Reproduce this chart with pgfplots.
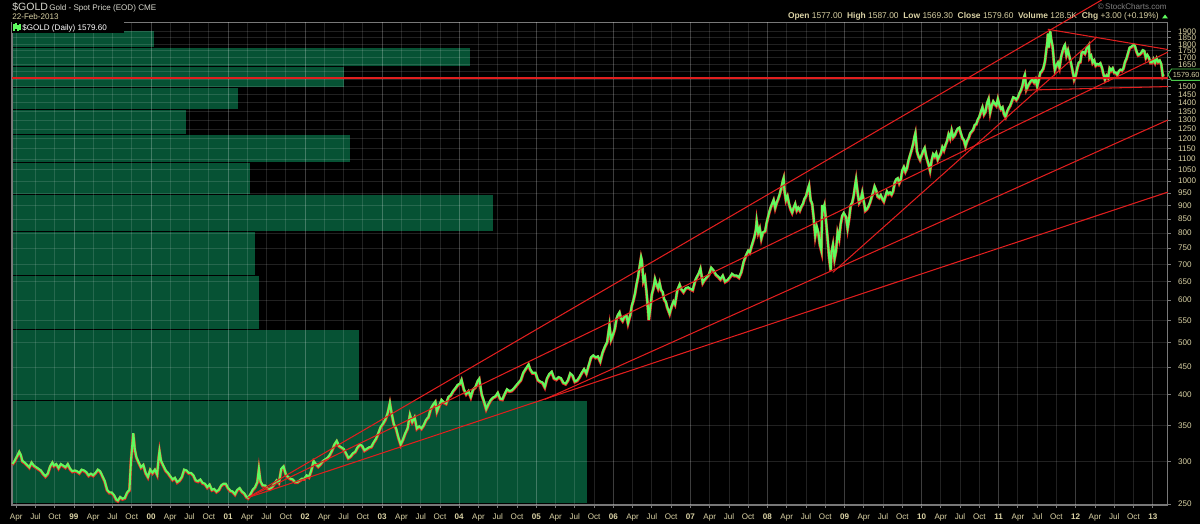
\documentclass[border=0pt]{standalone}
\usepackage{fontspec}
\setmainfont{Liberation Sans}
\usepackage{pgfplots}
\usepackage{pgfplotstable}
\pgfplotsset{compat=1.18}

\definecolor{framec}{RGB}{120,120,120}
\definecolor{labc}{RGB}{218,210,165}
\definecolor{volc}{RGB}{6,82,52}
\definecolor{pgreen}{RGB}{95,250,95}
\definecolor{pred}{RGB}{235,35,35}
\definecolor{tred}{RGB}{225,30,30}
\definecolor{hdr}{RGB}{215,215,205}

\newcommand\sm{\fontsize{4.6}{5.5}\selectfont}

% gold spot, decimal year vs price
\pgfplotstableread{
t p
1998.20 296
1998.23 300
1998.26 306
1998.29 312
1998.31 308
1998.33 300
1998.36 298
1998.39 295
1998.42 292
1998.45 298
1998.48 294
1998.51 292
1998.54 290
1998.57 288
1998.60 284
1998.63 281
1998.66 284
1998.69 293
1998.72 298
1998.74 294
1998.77 296
1998.80 291
1998.83 296
1998.86 294
1998.89 292
1998.92 296
1998.95 290
1998.98 287
1999.01 288
1999.04 287
1999.07 285
1999.10 289
1999.13 288
1999.16 286
1999.19 282
1999.22 284
1999.25 282
1999.28 285
1999.31 289
1999.34 287
1999.37 281
1999.40 275
1999.43 265
1999.46 262
1999.49 262
1999.52 259
1999.55 254
1999.57 253
1999.60 257
1999.63 255
1999.66 256
1999.69 262
1999.72 265
1999.74 300
1999.76 325
1999.77 338
1999.79 315
1999.81 305
1999.84 298
1999.87 292
1999.90 295
1999.93 285
1999.96 280
1999.99 289
2000.02 285
2000.05 289
2000.08 283
2000.10 305
2000.11 313
2000.13 300
2000.16 294
2000.19 288
2000.22 285
2000.25 281
2000.28 277
2000.31 279
2000.34 274
2000.37 276
2000.40 280
2000.43 289
2000.46 288
2000.49 285
2000.52 285
2000.55 282
2000.58 276
2000.61 275
2000.64 277
2000.67 273
2000.70 272
2000.73 268
2000.76 271
2000.79 265
2000.82 266
2000.85 263
2000.88 265
2000.91 270
2000.94 272
2000.97 272
2001.00 267
2001.03 264
2001.06 263
2001.09 260
2001.12 265
2001.15 267
2001.18 263
2001.21 261
2001.24 257
2001.26 256
2001.29 260
2001.32 265
2001.35 268
2001.38 274
2001.40 290
2001.42 275
2001.45 270
2001.48 270
2001.51 267
2001.54 266
2001.57 268
2001.60 272
2001.63 276
2001.66 273
2001.69 290
2001.72 293
2001.75 283
2001.78 280
2001.81 278
2001.84 277
2001.87 274
2001.90 274
2001.93 276
2001.96 278
2001.99 278
2002.02 282
2002.05 280
2002.08 288
2002.11 300
2002.14 296
2002.17 293
2002.20 296
2002.23 300
2002.26 302
2002.29 304
2002.32 308
2002.35 314
2002.38 322
2002.41 327
2002.44 320
2002.47 318
2002.50 316
2002.53 310
2002.56 304
2002.59 306
2002.62 310
2002.65 312
2002.68 318
2002.71 322
2002.74 320
2002.77 314
2002.80 316
2002.83 318
2002.86 319
2002.89 325
2002.92 330
2002.95 338
2002.98 347
2003.01 352
2003.04 358
2003.07 368
2003.10 385
2003.12 370
2003.15 352
2003.18 345
2003.21 332
2003.24 322
2003.27 329
2003.30 338
2003.33 345
2003.36 366
2003.39 355
2003.42 362
2003.45 345
2003.48 348
2003.51 345
2003.54 350
2003.57 358
2003.60 362
2003.63 375
2003.66 382
2003.69 387
2003.71 371
2003.74 380
2003.77 390
2003.80 386
2003.83 384
2003.86 395
2003.89 398
2003.92 405
2003.95 410
2003.98 416
2004.01 418
2004.03 425
2004.06 408
2004.09 400
2004.12 405
2004.15 395
2004.18 408
2004.21 412
2004.24 423
2004.26 427
2004.29 400
2004.32 388
2004.35 375
2004.38 383
2004.41 390
2004.44 394
2004.47 396
2004.50 402
2004.53 392
2004.56 391
2004.59 400
2004.62 408
2004.65 405
2004.68 406
2004.71 410
2004.74 415
2004.77 420
2004.80 425
2004.83 438
2004.86 445
2004.90 454
2004.92 445
2004.95 438
2004.99 438
2005.02 425
2005.05 422
2005.08 420
2005.11 412
2005.14 428
2005.17 436
2005.20 440
2005.23 428
2005.26 426
2005.29 430
2005.32 428
2005.35 420
2005.38 418
2005.41 424
2005.44 437
2005.47 433
2005.50 422
2005.53 424
2005.56 430
2005.59 438
2005.62 445
2005.65 437
2005.68 452
2005.71 468
2005.74 472
2005.77 468
2005.80 470
2005.83 460
2005.86 478
2005.89 490
2005.92 500
2005.94 525
2005.95 537
2005.97 505
2005.99 513
2006.02 530
2006.04 552
2006.06 562
2006.08 568
2006.10 553
2006.12 548
2006.14 556
2006.17 560
2006.19 542
2006.22 562
2006.24 585
2006.26 598
2006.28 615
2006.30 640
2006.32 660
2006.34 690
2006.36 720
2006.37 710
2006.39 650
2006.41 660
2006.43 620
2006.45 575
2006.46 550
2006.48 580
2006.50 615
2006.52 630
2006.54 655
2006.56 640
2006.58 630
2006.60 645
2006.62 625
2006.64 620
2006.66 600
2006.68 595
2006.70 580
2006.73 565
2006.76 585
2006.78 595
2006.80 588
2006.83 625
2006.86 640
2006.88 628
2006.91 620
2006.94 630
2006.97 632
2007.00 628
2007.03 625
2007.06 650
2007.08 660
2007.11 672
2007.13 685
2007.16 645
2007.18 652
2007.21 660
2007.24 668
2007.27 688
2007.30 680
2007.33 668
2007.36 662
2007.39 655
2007.42 665
2007.45 648
2007.48 652
2007.51 660
2007.54 670
2007.57 665
2007.60 665
2007.63 660
2007.66 675
2007.69 705
2007.72 725
2007.75 740
2007.77 735
2007.80 760
2007.83 785
2007.85 810
2007.86 840
2007.88 800
2007.90 815
2007.92 780
2007.94 800
2007.97 805
2007.99 835
2008.02 870
2008.04 890
2008.06 905
2008.08 920
2008.10 890
2008.12 910
2008.14 925
2008.16 945
2008.18 970
2008.20 1000
2008.21 1011
2008.22 960
2008.24 920
2008.26 935
2008.28 905
2008.30 885
2008.32 872
2008.34 890
2008.36 905
2008.38 880
2008.40 890
2008.42 880
2008.44 895
2008.46 905
2008.48 925
2008.50 935
2008.52 960
2008.54 980
2008.56 920
2008.58 905
2008.60 850
2008.62 790
2008.64 820
2008.66 800
2008.68 760
2008.70 740
2008.71 900
2008.72 880
2008.74 900
2008.76 840
2008.78 780
2008.80 720
2008.82 681
2008.83 735
2008.85 760
2008.87 715
2008.89 740
2008.91 800
2008.93 780
2008.95 830
2008.97 860
2008.99 870
2009.02 855
2009.04 815
2009.06 850
2009.08 900
2009.10 910
2009.12 940
2009.14 985
2009.15 1005
2009.17 950
2009.19 910
2009.21 920
2009.23 950
2009.25 915
2009.27 880
2009.29 885
2009.31 895
2009.33 910
2009.35 930
2009.37 950
2009.39 975
2009.41 960
2009.43 935
2009.45 930
2009.47 940
2009.49 925
2009.51 915
2009.53 935
2009.55 955
2009.57 945
2009.59 950
2009.61 942
2009.63 955
2009.65 990
2009.67 1005
2009.69 1010
2009.71 990
2009.73 1005
2009.75 1045
2009.77 1060
2009.79 1040
2009.81 1055
2009.83 1090
2009.85 1115
2009.87 1140
2009.89 1170
2009.91 1210
2009.92 1226
2009.94 1135
2009.96 1110
2009.98 1095
2010.00 1115
2010.02 1135
2010.04 1150
2010.06 1110
2010.08 1085
2010.10 1060
2010.11 1045
2010.13 1090
2010.15 1120
2010.17 1110
2010.19 1125
2010.21 1095
2010.23 1110
2010.25 1125
2010.27 1155
2010.29 1140
2010.31 1165
2010.33 1185
2010.35 1220
2010.37 1200
2010.39 1240
2010.41 1205
2010.43 1215
2010.45 1235
2010.47 1250
2010.49 1255
2010.51 1225
2010.53 1200
2010.55 1190
2010.57 1160
2010.59 1185
2010.61 1200
2010.63 1225
2010.65 1235
2010.67 1245
2010.69 1270
2010.71 1275
2010.73 1300
2010.75 1315
2010.77 1345
2010.79 1370
2010.81 1330
2010.83 1345
2010.85 1395
2010.87 1420
2010.89 1340
2010.91 1380
2010.93 1405
2010.95 1390
2010.97 1380
2010.99 1420
2011.01 1380
2011.03 1360
2011.05 1370
2011.07 1330
2011.09 1315
2011.11 1345
2011.13 1365
2011.15 1380
2011.17 1405
2011.19 1430
2011.21 1425
2011.23 1415
2011.25 1430
2011.27 1455
2011.29 1475
2011.31 1505
2011.33 1560
2011.34 1575
2011.36 1480
2011.38 1500
2011.40 1520
2011.42 1535
2011.44 1540
2011.46 1525
2011.48 1545
2011.50 1500
2011.52 1540
2011.54 1590
2011.56 1600
2011.58 1620
2011.60 1665
2011.62 1760
2011.63 1800
2011.64 1880
2011.65 1770
2011.66 1830
2011.67 1900
2011.68 1840
2011.70 1780
2011.72 1650
2011.73 1610
2011.75 1640
2011.77 1660
2011.79 1625
2011.81 1700
2011.83 1745
2011.85 1780
2011.86 1790
2011.88 1715
2011.90 1750
2011.92 1700
2011.94 1655
2011.96 1600
2011.98 1545
2012.00 1570
2012.02 1620
2012.04 1660
2012.06 1665
2012.08 1740
2012.10 1735
2012.12 1725
2012.14 1760
2012.16 1780
2012.17 1790
2012.18 1695
2012.20 1710
2012.22 1660
2012.24 1675
2012.26 1640
2012.28 1650
2012.30 1645
2012.32 1655
2012.34 1625
2012.36 1580
2012.38 1545
2012.40 1570
2012.42 1555
2012.44 1620
2012.46 1605
2012.48 1620
2012.50 1590
2012.52 1590
2012.54 1575
2012.56 1600
2012.58 1610
2012.60 1605
2012.62 1620
2012.64 1665
2012.66 1690
2012.68 1730
2012.70 1770
2012.72 1775
2012.74 1785
2012.76 1790
2012.77 1780
2012.79 1740
2012.81 1715
2012.83 1720
2012.85 1730
2012.87 1750
2012.89 1745
2012.91 1695
2012.93 1715
2012.95 1695
2012.97 1660
2012.99 1660
2013.01 1685
2013.03 1660
2013.05 1690
2013.07 1665
2013.09 1675
2013.11 1650
2013.12 1610
2013.13 1570
2013.14 1579.6
}\gold

\begin{document}
\begin{tikzpicture}[x=0.02cm,y=0.02cm]
\useasboundingbox (-12,-19) rectangle (1188,505);
\fill[black] (-12,-19) rectangle (1188,505);

% volume by price (share of plot width)
\begin{axis}[at={(0,0)}, anchor=south west, width=23.12cm, height=9.66cm, scale only axis,
  xmin=0, xmax=100, ymode=log, ymin=249, ymax=1980, hide axis]
\addplot[fill=volc, draw=black, line width=0.6pt] coordinates {(0,251) (49.83,251) (49.83,389.5) (0,389.5)} --cycle;
\addplot[fill=volc, draw=black, line width=0.6pt] coordinates {(0,389.5) (30.10,389.5) (30.10,528) (0,528)} --cycle;
\addplot[fill=volc, draw=black, line width=0.6pt] coordinates {(0,528) (21.45,528) (21.45,666.5) (0,666.5)} --cycle;
\addplot[fill=volc, draw=black, line width=0.6pt] coordinates {(0,666.5) (21.11,666.5) (21.11,805) (0,805)} --cycle;
\addplot[fill=volc, draw=black, line width=0.6pt] coordinates {(0,805) (41.70,805) (41.70,943.5) (0,943.5)} --cycle;
\addplot[fill=volc, draw=black, line width=0.6pt] coordinates {(0,943.5) (20.67,943.5) (20.67,1082) (0,1082)} --cycle;
\addplot[fill=volc, draw=black, line width=0.6pt] coordinates {(0,1082) (29.33,1082) (29.33,1220.5) (0,1220.5)} --cycle;
\addplot[fill=volc, draw=black, line width=0.6pt] coordinates {(0,1220.5) (15.14,1220.5) (15.14,1359) (0,1359)} --cycle;
\addplot[fill=volc, draw=black, line width=0.6pt] coordinates {(0,1359) (19.64,1359) (19.64,1497.5) (0,1497.5)} --cycle;
\addplot[fill=volc, draw=black, line width=0.6pt] coordinates {(0,1497.5) (28.81,1497.5) (28.81,1636) (0,1636)} --cycle;
\addplot[fill=volc, draw=black, line width=0.6pt] coordinates {(0,1636) (39.71,1636) (39.71,1774.5) (0,1774.5)} --cycle;
\addplot[fill=volc, draw=black, line width=0.6pt] coordinates {(0,1774.5) (12.37,1774.5) (12.37,1913) (0,1913)} --cycle;
\end{axis}

% price axis
\begin{axis}[at={(0,0)}, anchor=south west, width=23.12cm, height=9.66cm, scale only axis,
  xmin=1998.196, xmax=2013.195, ymode=log, ymin=249, ymax=1980,
  clip=false,
  axis line style={draw=framec, line width=0.6pt},
  xtick pos=left, ytick pos=right, yticklabel pos=right,
  tick align=outside, major tick length=0.06cm,
  tick style={draw=framec, line width=0.5pt},
  grid=major, major grid style={white, opacity=0.13, line width=0.5pt},
  xtick={1998.25,1998.5,1998.75,1999.25,1999.5,1999.75,2000.25,2000.5,2000.75,
    2001.25,2001.5,2001.75,2002.25,2002.5,2002.75,2003.25,2003.5,2003.75,
    2004.25,2004.5,2004.75,2005.25,2005.5,2005.75,2006.25,2006.5,2006.75,
    2007.25,2007.5,2007.75,2008.25,2008.5,2008.75,2009.25,2009.5,2009.75,
    2010.25,2010.5,2010.75,2011.25,2011.5,2011.75,2012.25,2012.5,2012.75},
  xticklabels={Apr,Jul,Oct,Apr,Jul,Oct,Apr,Jul,Oct,Apr,Jul,Oct,Apr,Jul,Oct,
    Apr,Jul,Oct,Apr,Jul,Oct,Apr,Jul,Oct,Apr,Jul,Oct,Apr,Jul,Oct,
    Apr,Jul,Oct,Apr,Jul,Oct,Apr,Jul,Oct,Apr,Jul,Oct,Apr,Jul,Oct},
  extra x ticks={1999,2000,2001,2002,2003,2004,2005,2006,2007,2008,2009,2010,2011,2012,2013},
  extra x tick labels={99,00,01,02,03,04,05,06,07,08,09,10,11,12,13},
  extra x tick style={grid=major, major grid style={white, opacity=0.24, line width=0.5pt},
    tick label style={font=\sm\bfseries}},
  ytick={250,300,350,400,450,500,550,600,650,700,750,800,850,900,950,1000,1050,1100,1150,1200,
    1250,1300,1350,1400,1450,1500,1550,1600,1650,1700,1750,1800,1850,1900},
  yticklabels={250,300,350,400,450,500,550,600,650,700,750,800,850,900,950,1000,1050,1100,1150,1200,
    1250,1300,1350,1400,1450,1500,{},{},1650,1700,1750,1800,1850,1900},
  ticklabel style={font=\sm, text=labc},
  xticklabel style={anchor=base, yshift=-0.23cm},
  yticklabel style={anchor=west, inner sep=0pt, xshift=0.14cm},
  /pgf/number format/assume math mode=true,
]
\addplot[pred, line width=1.7pt] table {\gold};
\addplot[pgreen, line width=1.2pt, yshift=0.4pt] table {\gold};
% trend lines
\addplot[tred, line width=0.6pt] coordinates {(2001.258,257) (2012.338,2177)};
\addplot[tred, line width=0.6pt] coordinates {(2001.258,257) (2013.195,1740)};
\addplot[tred, line width=0.6pt] coordinates {(2001.258,257) (2013.195,954)};
\addplot[tred, line width=0.6pt] coordinates {(2008.848,676) (2012.274,1857)};
\addplot[tred, line width=0.6pt] coordinates {(2005.111,392) (2013.195,1300)};
\addplot[tred, line width=0.6pt] coordinates {(2011.638,1920) (2013.195,1760)};
\addplot[tred, line width=0.6pt] coordinates {(2011.327,1478) (2013.195,1501)};
\addplot[tred, line width=1.6pt] coordinates {(1998.196,1557) (2013.195,1557)};
\end{axis}

% header
\node[anchor=base west, inner sep=0pt, text=hdr, font=\fontsize{6}{7}\selectfont] at (0,494) {\$GOLD};
\node[anchor=base west, inner sep=0pt, text=hdr, font=\sm] at (37,494) {Gold - Spot Price (EOD) CME};
\node[anchor=base west, inner sep=0pt, text=labc, font=\sm] at (0,485) {22-Feb-2013};
\node[anchor=base east, inner sep=0pt, text=gray, font=\sm] at (1155,495) {\textcopyright\,StockCharts.com};
\node[anchor=base east, inner sep=0pt, text=labc, font=\fontsize{4.8}{5.5}\selectfont] at (1147,486)
  {\textbf{Open} 1577.00 \ \textbf{High} 1587.00 \ \textbf{Low} 1569.30 \ \textbf{Close} 1579.60 \ \textbf{Volume} 128.5K \ \textbf{Chg} +3.00 (+0.19\%)};
\fill[pgreen] (1150,486.5) -- (1156,486.5) -- (1153,490.5) -- cycle;

% legend tag inside plot
\fill[black] (0,472) rectangle (112,483);
\draw[pgreen, line width=0.6pt] (2,474) -- (2,481) (4,476) -- (4,482) (6,474) -- (6,480) (8,475) -- (8,481);
\node[anchor=base west, inner sep=0pt, text=white, font=\sm] at (10,474.5) {\$GOLD (Daily) 1579.60};

% last price tag
\draw[draw=pgreen!80!black, fill=black, line width=0.5pt] (1156,430.3) -- (1159.5,436) -- (1192,436) -- (1192,424.6) -- (1159.5,424.6) -- cycle;
\node[anchor=west, inner sep=0pt, text=labc, font=\fontsize{4.2}{5}\selectfont] at (1160.5,430.3) {1579.60};
\end{tikzpicture}
\end{document}
